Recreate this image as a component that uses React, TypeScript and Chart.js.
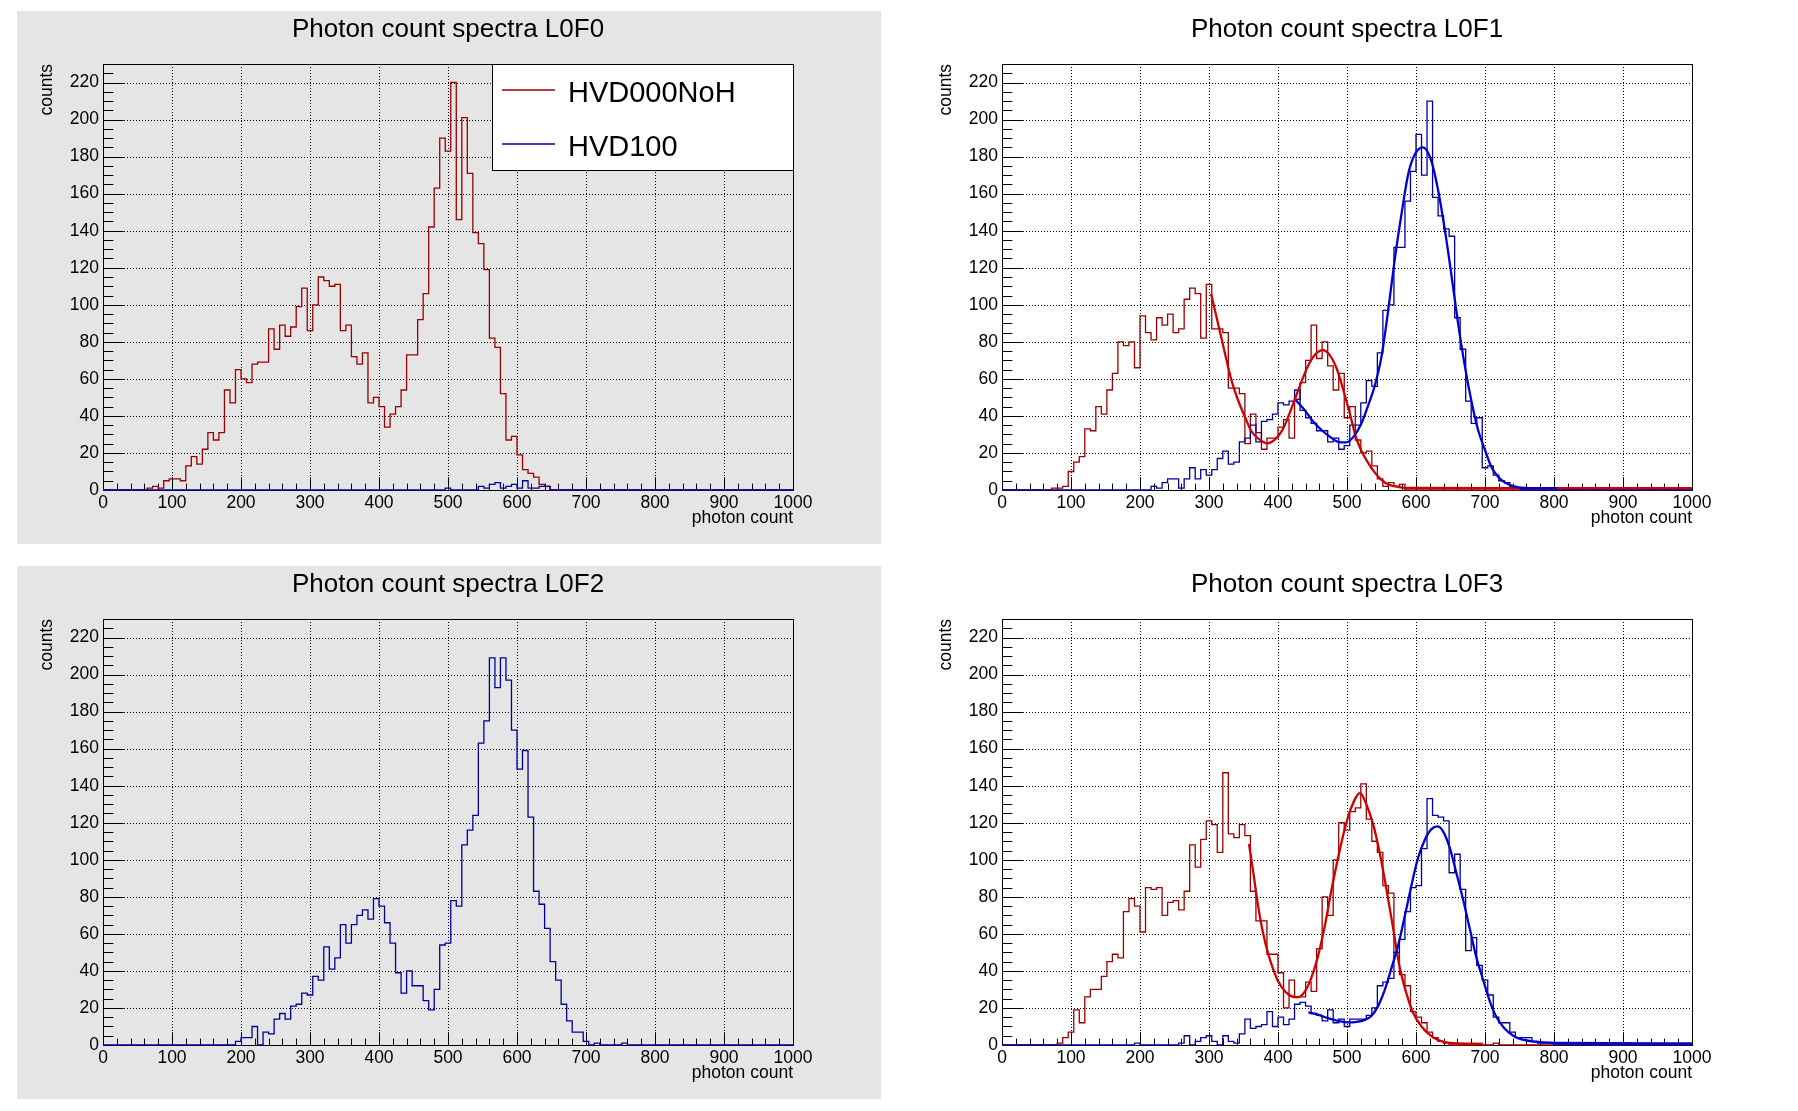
import { useEffect, useRef } from 'react';
import { Chart, registerables } from 'chart.js';

Chart.register(...registerables);

// 125 bins of width 8 over 0..1000 photons
const BIN_WIDTH = 8;
const X_MAX = 1000;
const Y_MAX = 230;

const X_TICKS = [0, 100, 200, 300, 400, 500, 600, 700, 800, 900, 1000];
const Y_TICKS = [0, 20, 40, 60, 80, 100, 120, 140, 160, 180, 200, 220];

const LEGEND_LABELS = ['HVD000NoH', 'HVD100'];

// counts per bin
const L0F0_RED = [
  0, 0, 0, 0, 0, 0, 0, 0, 1, 2, 1, 5, 6, 6, 5, 13, 18, 14, 22, 31, 27, 31, 54, 47, 65,
  60, 58, 68, 69, 69, 87, 76, 89, 83, 88, 99, 109, 86, 100, 115, 113, 110, 111, 86, 89, 72, 68, 74, 47, 50,
  45, 34, 41, 45, 54, 73, 73, 92, 106, 142, 163, 190, 183, 220, 146, 201, 171, 139, 133, 119, 82, 77, 52, 27, 29,
  19, 11, 9, 7, 3, 2, 0, 0, 0, 0, 0, 0, 0, 0, 0, 0, 0, 0, 0, 0, 0, 0, 0, 0, 0,
  0, 0, 0, 0, 0, 0, 0, 0, 0, 0, 0, 0, 0, 0, 0, 0, 0, 0, 0, 0, 0, 0, 0, 0, 0,
];
const L0F0_BLUE = [
  0, 0, 0, 0, 0, 0, 0, 0, 0, 0, 0, 0, 0, 0, 0, 0, 0, 0, 0, 0, 0, 0, 0, 0, 0,
  0, 0, 0, 0, 0, 0, 0, 0, 0, 0, 0, 0, 0, 0, 0, 0, 0, 0, 0, 0, 0, 0, 0, 0, 0,
  0, 0, 0, 0, 0, 0, 0, 0, 0, 0, 0, 0, 1, 0, 0, 0, 0, 0, 2, 1, 3, 4, 1, 2, 3,
  1, 5, 1, 1, 2, 2, 0, 0, 0, 0, 0, 0, 0, 0, 0, 0, 0, 0, 0, 0, 0, 0, 0, 0, 0,
  0, 0, 0, 0, 0, 0, 0, 0, 0, 0, 0, 0, 0, 0, 0, 0, 0, 0, 0, 0, 0, 0, 0, 0, 0,
];

const L0F1_RED = [
  0, 0, 0, 0, 0, 0, 0, 0, 0, 1, 1, 2, 10, 15, 18, 33, 32, 45, 41, 54, 63, 80, 78, 80, 66,
  94, 85, 81, 93, 89, 95, 85, 87, 103, 109, 106, 82, 111, 87, 87, 85, 55, 55, 52, 25, 41, 31, 22, 28, 28,
  34, 38, 28, 49, 58, 70, 89, 71, 80, 67, 54, 63, 39, 45, 27, 20, 21, 13, 6, 2, 4, 2, 3, 0, 0,
  0, 0, 0, 0, 0, 0, 0, 0, 0, 0, 0, 0, 0, 0, 0, 0, 0, 0, 0, 0, 0, 0, 0, 0, 0,
  0, 0, 0, 0, 0, 0, 0, 0, 0, 0, 0, 0, 0, 0, 0, 0, 0, 0, 0, 0, 0, 0, 0, 0, 0,
];
const L0F1_BLUE = [
  0, 0, 0, 0, 0, 0, 0, 0, 0, 0, 0, 0, 0, 0, 0, 0, 0, 0, 0, 0, 0, 0, 0, 0, 0,
  0, 0, 2, 1, 4, 6, 6, 1, 6, 12, 6, 11, 8, 11, 17, 21, 14, 15, 26, 28, 35, 26, 37, 38, 41,
  47, 46, 48, 54, 43, 39, 36, 32, 32, 26, 28, 22, 24, 35, 35, 47, 59, 56, 74, 97, 100, 131, 131, 156, 172,
  192, 170, 210, 158, 148, 141, 137, 93, 76, 48, 36, 39, 12, 13, 8, 5, 4, 2, 1, 0, 0, 0, 0, 0, 0,
  0, 0, 0, 0, 0, 0, 0, 0, 0, 0, 0, 0, 0, 0, 0, 0, 0, 0, 0, 0, 0, 0, 0, 0, 0,
];

const L0F2_BLUE = [
  0, 0, 0, 0, 0, 0, 0, 0, 0, 0, 0, 0, 0, 0, 0, 0, 0, 0, 0, 0, 0, 0, 0, 0, 2,
  4, 4, 10, 0, 7, 6, 14, 17, 14, 21, 22, 28, 27, 37, 35, 53, 41, 47, 65, 55, 65, 70, 73, 68, 79,
  75, 66, 55, 39, 28, 40, 32, 32, 24, 19, 30, 54, 55, 78, 75, 108, 116, 124, 163, 175, 209, 193, 209, 197, 170,
  149, 159, 123, 83, 76, 63, 45, 35, 22, 13, 7, 7, 2, 0, 1, 0, 0, 0, 0, 1, 0, 0, 0, 0, 0,
  0, 0, 0, 0, 0, 0, 0, 0, 0, 0, 0, 0, 0, 0, 0, 0, 0, 0, 0, 0, 0, 0, 0, 0, 0,
];

const L0F3_RED = [
  0, 0, 0, 0, 0, 0, 0, 0, 0, 0, 1, 4, 7, 19, 12, 26, 30, 30, 37, 45, 49, 47, 72, 79, 75,
  61, 85, 84, 85, 70, 77, 78, 73, 83, 108, 96, 111, 121, 119, 104, 147, 114, 112, 119, 113, 83, 67, 67, 49, 49,
  39, 20, 35, 26, 26, 34, 29, 52, 80, 70, 100, 120, 116, 126, 128, 141, 122, 110, 104, 86, 82, 50, 38, 32, 18,
  15, 12, 7, 4, 2, 1, 0, 0, 0, 0, 0, 0, 0, 0, 1, 0, 0, 0, 0, 0, 0, 0, 0, 0, 0,
  0, 0, 0, 0, 0, 0, 0, 0, 0, 0, 0, 0, 0, 0, 0, 0, 0, 0, 0, 0, 0, 0, 0, 0, 0,
];
const L0F3_BLUE = [
  0, 0, 0, 0, 0, 0, 0, 0, 0, 0, 0, 0, 0, 0, 0, 0, 0, 0, 0, 0, 0, 0, 0, 0, 1,
  0, 0, 0, 0, 0, 0, 0, 1, 5, 0, 2, 4, 5, 2, 0, 5, 2, 1, 6, 14, 9, 10, 11, 18, 10,
  15, 11, 14, 22, 23, 21, 17, 16, 13, 19, 12, 14, 10, 14, 14, 14, 16, 20, 32, 34, 36, 50, 57, 72, 85,
  86, 106, 133, 124, 123, 121, 93, 103, 84, 51, 58, 43, 35, 27, 15, 12, 12, 7, 4, 4, 4, 2, 1, 1, 1,
  0, 0, 0, 0, 0, 0, 0, 0, 0, 0, 0, 0, 0, 0, 0, 0, 0, 0, 0, 0, 0, 0, 0, 0, 0,
];

// fitted curves (x in photons, y in counts)
const L0F1_RED_FIT_X = [303, 313, 323, 332, 342, 352, 361, 371, 385, 395, 405, 414, 424, 434, 444, 453, 465, 475, 485, 494, 504, 513, 521, 530, 540, 550, 560, 575, 600, 700, 800, 900, 1000];
const L0F1_RED_FIT_Y = [106, 90, 74, 60, 48.6, 39.6, 32, 27.9, 25.2, 27, 31.5, 38.7, 48.6, 58.5, 67.4, 72.8, 75.5, 72.8, 65.6, 54.9, 41.4, 28.5, 21, 15, 9.5, 5.5, 3, 1.6, 1.1, 1, 1, 1, 1];
const L0F1_BLUE_FIT_X = [426, 439, 451, 463, 475, 487, 499, 511, 521, 530, 540, 550, 559, 569, 579, 589, 598, 610, 622, 632, 642, 651, 661, 671, 680, 690, 700, 709, 719, 729, 743, 763, 805];
const L0F1_BLUE_FIT_Y = [48.5, 43, 37, 32.4, 28.8, 26, 25.7, 29.5, 36, 45, 56, 72, 95, 124, 149, 171, 181, 185, 178, 162, 140, 117, 90, 66.5, 48.6, 32.4, 21.6, 12.6, 7.2, 4, 1.8, 1, 1];

const L0F3_RED_FIT_X = [358, 364, 371, 378, 386, 393, 400, 410, 419, 429, 439, 448, 458, 468, 477, 487, 497, 506, 519, 528, 538, 547, 557, 567, 576, 586, 596, 608, 620, 632, 646, 697];
const L0F3_RED_FIT_Y = [108.5, 93.6, 75.5, 61, 49, 41, 34.5, 29, 26.4, 25.8, 29, 36, 48, 64.5, 82.7, 101, 117, 128, 136, 130, 119, 104.5, 84.5, 62.7, 42.7, 28, 17.3, 10, 5.5, 2.7, 1.3, 0.6];
const L0F3_BLUE_FIT_X = [444, 458, 472, 487, 501, 514, 526, 535, 545, 555, 564, 574, 584, 593, 603, 613, 622, 631, 639, 649, 658, 668, 678, 687, 697, 707, 716, 728, 741, 753, 772, 801, 1000];
const L0F3_BLUE_FIT_Y = [17.6, 16.4, 14.5, 13, 12.2, 12.5, 13.6, 15.5, 21, 30, 41, 53.6, 70, 85.5, 101, 111, 116.4, 118, 115.5, 106.4, 93.6, 79, 62.7, 48, 35.5, 23.6, 15.5, 9, 5, 3, 1.8, 1.2, 0.9];

const RED_HIST = '#990000';
const BLUE_HIST = '#000099';
const RED_FIT = '#cc0000';
const BLUE_FIT = '#0000cc';
const PAD_GREY = '#e5e5e5';
const FONT = '"Liberation Sans", Arial, Helvetica, sans-serif';

const PAD_W = 864;
const PAD_H = 533;

type Curve = { x: number[]; y: number[] };

const histPoints = (counts: number[]) => {
  const pts = counts.map((c, i) => ({ x: i * BIN_WIDTH, y: c }));
  pts.push({ x: counts.length * BIN_WIDTH, y: counts[counts.length - 1] });
  return pts;
};

const curvePoints = (c: Curve) => c.x.map((x, i) => ({ x, y: c.y[i] }));

// ROOT-like frame: dotted grid, inside ticks, frame box, titles and legend
const rootFrame = {
  id: 'rootFrame',
  beforeDatasetsDraw(chart: any) {
    const { ctx, chartArea: a, scales } = chart;
    const x = scales.x;
    const y = scales.y;
    ctx.save();
    ctx.strokeStyle = '#000';
    ctx.lineWidth = 1;

    ctx.setLineDash([1, 2]);
    ctx.beginPath();
    X_TICKS.forEach((v) => {
      if (v === 0 || v === X_MAX) return;
      const px = Math.round(x.getPixelForValue(v)) + 0.5;
      ctx.moveTo(px, a.top);
      ctx.lineTo(px, a.bottom);
    });
    Y_TICKS.forEach((v) => {
      if (v === 0) return;
      const py = Math.round(y.getPixelForValue(v)) + 0.5;
      ctx.moveTo(a.left, py);
      ctx.lineTo(a.right, py);
    });
    ctx.stroke();
    ctx.setLineDash([]);

    ctx.beginPath();
    for (let v = 0; v <= X_MAX; v += 20) {
      const px = Math.round(x.getPixelForValue(v)) + 0.5;
      const len = v % 100 === 0 ? 12.8 : 6.4;
      ctx.moveTo(px, a.bottom);
      ctx.lineTo(px, a.bottom - len);
    }
    for (let v = 0; v <= Y_MAX; v += 5) {
      const py = Math.round(y.getPixelForValue(v)) + 0.5;
      const len = v % 20 === 0 ? 20.7 : 10.35;
      ctx.moveTo(a.left, py);
      ctx.lineTo(a.left + len, py);
    }
    ctx.stroke();
    ctx.strokeRect(a.left + 0.5, a.top + 0.5, a.right - a.left, a.bottom - a.top);
    ctx.restore();
  },
  afterDraw(chart: any, _args: any, opts: any) {
    const { ctx, chartArea: a } = chart;
    ctx.save();
    ctx.fillStyle = '#000';
    ctx.textBaseline = 'alphabetic';

    ctx.font = `26px ${FONT}`;
    ctx.textAlign = 'center';
    ctx.fillText(opts.title, (a.left + a.right) / 2, 26);

    ctx.font = `17.5px ${FONT}`;
    ctx.textAlign = 'right';
    ctx.fillText('photon count', a.right, a.bottom + 33);

    ctx.save();
    ctx.translate(35, a.top);
    ctx.rotate(-Math.PI / 2);
    ctx.textAlign = 'right';
    ctx.fillText('counts', 0, 0);
    ctx.restore();

    if (opts.legend) {
      const bx = 475;
      const by = a.top;
      const bw = a.right - bx;
      const bh = 106;
      ctx.fillStyle = '#fff';
      ctx.fillRect(bx, by, bw, bh);
      ctx.strokeStyle = '#000';
      ctx.lineWidth = 1;
      ctx.strokeRect(bx + 0.5, by + 0.5, bw, bh);
      const colors = [RED_HIST, BLUE_HIST];
      ctx.font = `29px ${FONT}`;
      ctx.textAlign = 'left';
      LEGEND_LABELS.forEach((label, i) => {
        const ly = by + 26 + i * 54;
        ctx.strokeStyle = colors[i];
        ctx.lineWidth = 1.3;
        ctx.beginPath();
        ctx.moveTo(bx + 10, ly);
        ctx.lineTo(bx + 63, ly);
        ctx.stroke();
        ctx.fillStyle = '#000';
        ctx.fillText(label, bx + 76, ly + 11.5);
      });
    }
    ctx.restore();
  },
};

type PanelProps = {
  left: number;
  top: number;
  grey?: boolean;
  legend?: boolean;
  title: string;
  red?: number[];
  blue: number[];
  redFit?: Curve;
  blueFit?: Curve;
};

const Panel = ({ left, top, grey, legend, title, red, blue, redFit, blueFit }: PanelProps) => {
  const canvasRef = useRef<HTMLCanvasElement>(null);

  useEffect(() => {
    if (!canvasRef.current) return;

    const hist = (counts: number[], color: string, order: number) => ({
      data: histPoints(counts),
      borderColor: color,
      borderWidth: 1.3,
      stepped: true,
      pointRadius: 0,
      fill: false,
      clip: false,
      borderJoinStyle: 'miter',
      order,
    });
    const fit = (c: Curve, color: string, order: number) => ({
      data: curvePoints(c),
      borderColor: color,
      borderWidth: 2.3,
      cubicInterpolationMode: 'monotone',
      pointRadius: 0,
      fill: false,
      clip: false,
      order,
    });

    const datasets: any[] = [];
    if (red) datasets.push(hist(red, RED_HIST, 4));
    datasets.push(hist(blue, BLUE_HIST, 3));
    if (redFit) datasets.push(fit(redFit, RED_FIT, 2));
    if (blueFit) datasets.push(fit(blueFit, BLUE_FIT, 1));

    const tickFont = { family: FONT, size: 17.5 };
    const plain = (v: number | string) => String(v);

    const chart = new Chart(canvasRef.current, {
      type: 'line',
      data: { datasets },
      plugins: [rootFrame],
      options: {
        animation: false,
        responsive: false,
        devicePixelRatio: 1,
        events: [],
        layout: { padding: { left: 0, right: 88, top: 53, bottom: 0 } },
        plugins: {
          legend: { display: false },
          tooltip: { enabled: false },
          rootFrame: { title, legend: !!legend },
        } as any,
        scales: {
          x: {
            type: 'linear',
            min: 0,
            max: X_MAX,
            afterBuildTicks: (s: any) => {
              s.ticks = X_TICKS.map((v) => ({ value: v }));
            },
            afterFit: (s: any) => {
              s.height = 54;
            },
            ticks: { font: tickFont, color: '#000', padding: 3, maxRotation: 0, autoSkip: false, callback: plain },
            grid: { display: false, drawTicks: false },
            border: { display: false },
          },
          y: {
            type: 'linear',
            min: 0,
            max: Y_MAX,
            afterBuildTicks: (s: any) => {
              s.ticks = Y_TICKS.map((v) => ({ value: v }));
            },
            afterFit: (s: any) => {
              s.width = 86;
            },
            ticks: { font: tickFont, color: '#000', padding: 4, autoSkip: false, callback: plain },
            grid: { display: false, drawTicks: false },
            border: { display: false },
          },
        },
      } as any,
    });

    return () => {
      chart.destroy();
    };
  }, [title, red, blue, redFit, blueFit, legend]);

  return (
    <canvas
      ref={canvasRef}
      width={PAD_W}
      height={PAD_H}
      style={{
        position: 'absolute',
        left,
        top,
        width: PAD_W,
        height: PAD_H,
        background: grey ? PAD_GREY : '#fff',
      }}
    />
  );
};

const L0F1_RED_FIT = { x: L0F1_RED_FIT_X, y: L0F1_RED_FIT_Y };
const L0F1_BLUE_FIT = { x: L0F1_BLUE_FIT_X, y: L0F1_BLUE_FIT_Y };
const L0F3_RED_FIT = { x: L0F3_RED_FIT_X, y: L0F3_RED_FIT_Y };
const L0F3_BLUE_FIT = { x: L0F3_BLUE_FIT_X, y: L0F3_BLUE_FIT_Y };

export default function App() {
  return (
    <div
      style={{
        position: 'absolute',
        left: 0,
        top: 0,
        width: 1798,
        height: 1111,
        background: '#fff',
        overflow: 'hidden',
      }}
    >
      <Panel left={17} top={11} grey legend title="Photon count spectra L0F0" red={L0F0_RED} blue={L0F0_BLUE} />
      <Panel
        left={916}
        top={11}
        title="Photon count spectra L0F1"
        red={L0F1_RED}
        blue={L0F1_BLUE}
        redFit={L0F1_RED_FIT}
        blueFit={L0F1_BLUE_FIT}
      />
      <Panel left={17} top={566} grey title="Photon count spectra L0F2" blue={L0F2_BLUE} />
      <Panel
        left={916}
        top={566}
        title="Photon count spectra L0F3"
        red={L0F3_RED}
        blue={L0F3_BLUE}
        redFit={L0F3_RED_FIT}
        blueFit={L0F3_BLUE_FIT}
      />
    </div>
  );
}
